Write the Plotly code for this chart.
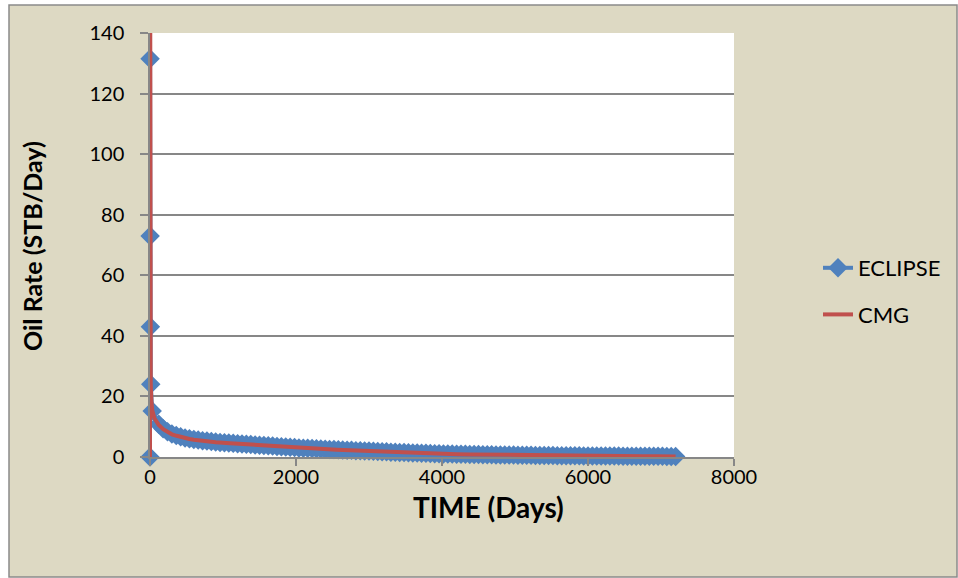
import plotly.graph_objects as go

# ECLIPSE simulated oil rate (STB/Day) versus time (days)
eclipse_time = [
    0, 1, 2, 5, 10, 30,
    120, 180, 240, 300, 360, 420, 480, 540, 600, 660, 720, 780,
    840, 900, 960, 1020, 1080, 1140, 1200, 1260, 1320, 1380, 1440, 1500,
    1560, 1620, 1680, 1740, 1800, 1860, 1920, 1980, 2040, 2100, 2160, 2220,
    2280, 2340, 2400, 2460, 2520, 2580, 2640, 2700, 2760, 2820, 2880, 2940,
    3000, 3060, 3120, 3180, 3240, 3300, 3360, 3420, 3480, 3540, 3600, 3660,
    3720, 3780, 3840, 3900, 3960, 4020, 4080, 4140, 4200, 4260, 4320, 4380,
    4440, 4500, 4560, 4620, 4680, 4740, 4800, 4860, 4920, 4980, 5040, 5100,
    5160, 5220, 5280, 5340, 5400, 5460, 5520, 5580, 5640, 5700, 5760, 5820,
    5880, 5940, 6000, 6060, 6120, 6180, 6240, 6300, 6360, 6420, 6480, 6540,
    6600, 6660, 6720, 6780, 6840, 6900, 6960, 7020, 7080, 7140, 7200,
]
eclipse_rate = [
    0, 131.5, 73.0, 43.0, 24.0, 15.2,
    10.8, 9.3, 8.3, 7.6, 7.1, 6.7, 6.3, 6.0, 5.8, 5.6, 5.4, 5.25,
    5.1, 4.95, 4.8, 4.7, 4.6, 4.5, 4.4, 4.3, 4.2, 4.1, 4.0, 3.9,
    3.8, 3.7, 3.6, 3.5, 3.4, 3.3, 3.2, 3.1, 3.0, 2.9, 2.85, 2.8,
    2.7, 2.65, 2.6, 2.5, 2.45, 2.4, 2.3, 2.25, 2.2, 2.1, 2.05, 2.0,
    1.95, 1.9, 1.8, 1.75, 1.7, 1.6, 1.55, 1.5, 1.45, 1.4, 1.35, 1.3,
    1.25, 1.2, 1.15, 1.1, 1.05, 1.0, 0.98, 0.95, 0.92, 0.9, 0.87, 0.85,
    0.82, 0.8, 0.78, 0.75, 0.73, 0.7, 0.68, 0.66, 0.64, 0.62, 0.6, 0.58,
    0.56, 0.54, 0.52, 0.5, 0.49, 0.47, 0.46, 0.44, 0.43, 0.42, 0.4, 0.39,
    0.38, 0.37, 0.36, 0.35, 0.34, 0.33, 0.32, 0.31, 0.3, 0.29, 0.28, 0.27,
    0.26, 0.25, 0.25, 0.24, 0.23, 0.22, 0.22, 0.21, 0.2, 0.2, 0.19,
]

# CMG simulated oil rate (STB/Day) versus time (days)
cmg_time = [
    0, 1, 2, 5, 10, 20, 30, 60, 90, 120, 180, 240, 300, 365, 450, 540,
    600, 730, 900, 1095, 1275, 1460, 1640, 1825, 2005, 2190, 2370, 2555,
    2740, 2920, 3100, 3285, 3470, 3650, 3835, 4015, 4200, 4380, 4565, 4745,
    4930, 5110, 5295, 5475, 5660, 5840, 6025, 6205, 6390, 6570, 6750, 6935,
    7115, 7200,
]
cmg_rate = [
    0, 190.0, 60.0, 35.0, 24.0, 18.0, 15.5, 12.8, 11.5, 10.6, 9.2, 8.2,
    7.5, 7.0, 6.4, 5.95, 5.7, 5.3, 4.9, 4.55, 4.25, 3.95, 3.65, 3.35,
    3.05, 2.8, 2.6, 2.4, 2.2, 2.0, 1.85, 1.65, 1.5, 1.33, 1.18, 1.03,
    0.92, 0.84, 0.77, 0.7, 0.64, 0.58, 0.53, 0.48, 0.43, 0.39, 0.36, 0.33,
    0.3, 0.27, 0.25, 0.22, 0.2, 0.19,
]

y_ticks = [0, 20, 40, 60, 80, 100, 120, 140]
x_ticks = [0, 2000, 4000, 6000, 8000]

BLUE = "#4F81BD"
RED = "#C0504D"
TAN = "#DDD9C3"
GRID = "#878787"
FONT = "Lato"

W, H = 958, 578
L, R, T, B = 150, 224, 33, 121
PW, PH = W - L - R, H - T - B


def px_x(p):
    return (p - L) / PW


def px_y(p):
    return (H - B - p) / PH


fig = go.Figure()
fig.add_trace(go.Scatter(
    x=eclipse_time, y=eclipse_rate, name="ECLIPSE", mode="lines+markers",
    line=dict(color=BLUE, width=4),
    marker=dict(symbol="diamond", size=15, color=BLUE, line=dict(width=0)),
    cliponaxis=False, legendgroup="a",
))
fig.add_trace(go.Scatter(
    x=cmg_time, y=cmg_rate, name="CMG", mode="lines",
    line=dict(color=RED, width=4), legendgroup="b",
))

# chart-area frame, then the white plot area on top of it
fig.add_shape(type="rect", xref="paper", yref="paper",
              x0=px_x(9), x1=px_x(957), y0=px_y(577), y1=px_y(5),
              fillcolor=TAN, line=dict(color="#8a8a8a", width=1.5),
              layer="below")
fig.add_shape(type="rect", xref="paper", yref="paper",
              x0=0, x1=1, y0=0, y1=1,
              fillcolor="white", line=dict(width=0), layer="below")

# axis titles
fig.add_annotation(text="<b>TIME (Days)</b>", xref="paper", yref="paper",
                   x=px_x(488), y=px_y(507), xanchor="center",
                   yanchor="middle", showarrow=False, font=dict(size=28))
fig.add_annotation(text="<b>Oil Rate (STB/Day)</b>", xref="paper",
                   yref="paper", x=px_x(32), y=px_y(246), xanchor="center",
                   yanchor="middle", textangle=-90, showarrow=False,
                   font=dict(size=25))

fig.update_layout(
    width=W, height=H,
    margin=dict(l=L, r=R, t=T, b=B, pad=0),
    paper_bgcolor="white", plot_bgcolor="white",
    font=dict(family=FONT, size=20, color="black"),
    showlegend=True,
    legend=dict(x=px_x(818), y=px_y(247), xanchor="left", yanchor="top",
                bgcolor="rgba(0,0,0,0)", tracegroupgap=15,
                traceorder="grouped", font=dict(size=22)),
    xaxis=dict(
        range=[0, 8000], tickvals=x_ticks, ticks="outside", ticklen=7,
        tickcolor=GRID, tickwidth=1.5, showgrid=False, zeroline=False,
        showline=True, linecolor=GRID, linewidth=1.5,
        ticklabelstandoff=-6,
    ),
    yaxis=dict(
        range=[0, 140], tickvals=y_ticks, ticks="outside", ticklen=8,
        tickcolor=GRID, tickwidth=1.5, showgrid=True, gridcolor=GRID,
        gridwidth=1.5, zeroline=False, showline=True, linecolor=GRID,
        linewidth=1.5, ticklabelstandoff=12,
    ),
)

fig.write_html("out.html")
